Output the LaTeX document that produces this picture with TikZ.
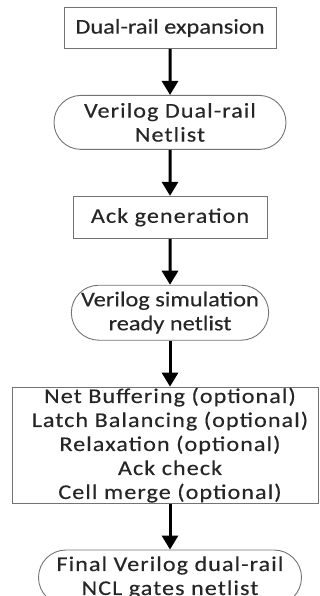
\documentclass[tikz,border=0pt]{standalone}
\usepackage{fontspec}
\setmainfont[FakeStretch=1.15,LetterSpace=5,FakeBold=0.3]{Carlito}
\newfontfamily\tightfont[FakeStretch=1.16,FakeBold=0.3]{Carlito}
\usepackage{tikz}
\usetikzlibrary{positioning,arrows.meta,shapes.misc}

\begin{document}
\begin{tikzpicture}[
	x=1pt, y=1pt,
	% --- KÍCH THƯỚC & KHOẢNG CÁCH ---
	node distance=46pt,              % khoảng hở dọc giữa các khối
	% -----------------------------
	every node/.style={
		font=\fontsize{21}{24}\selectfont, text=black!85,
		align=center, inner sep=0pt
	},
	% Khối xử lý (chữ nhật)
	proc_box/.style={rectangle, draw=black!55, line width=0.9pt},
	% Khối netlist (bo tròn hai đầu)
	term_box/.style={rounded rectangle, draw=black!55, line width=0.9pt},
	% Chữ hẹp hơn cho vài khối
	tight_text/.style={font=\tightfont\fontsize{21}{24}\selectfont},
	flow_arrow/.style={draw, line width=3pt, -{Triangle[width=16pt,length=14pt]}}
	]
	\useasboundingbox (0,0) rectangle (320,-596);
	\clip (0,0) rectangle (320,-596);
	
	% Các bước của luồng
	\node[proc_box, tight_text, minimum width=212pt, minimum height=41pt] (expand) at (170,-28) {Dual-rail expansion};
	\node[term_box, minimum width=232pt, minimum height=54pt, below=of expand] (dr_net) {Verilog Dual-rail\\Netlist};
	\node[proc_box, minimum width=194pt, minimum height=42pt, below=of dr_net] (ack_gen) {Ack generation};
	\node[term_box, tight_text, minimum width=195pt, minimum height=55pt, below=of ack_gen] (sim_net) {Verilog simulation\\ready netlist};
	\node[proc_box, minimum width=306pt, minimum height=116pt, below=of sim_net, xshift=-5pt] (opt_steps) {};
	% Chữ trong khối lớn lệch phải một chút
	\node[xshift=5pt] (opt_text) at (opt_steps) {Net Buffering (optional)\\Latch Balancing (optional)\\Relaxation (optional)\\Ack check\\Cell merge (optional)};
	\node[term_box, minimum width=263pt, minimum height=55pt, below=of opt_steps, xshift=5pt] (final_net) {Final Verilog dual-rail\\NCL gates netlist};
	
	% Mũi tên nối
	\draw[flow_arrow] (expand) -- (dr_net);
	\draw[flow_arrow] (dr_net) -- (ack_gen);
	\draw[flow_arrow] (ack_gen) -- (sim_net);
	\draw[flow_arrow] (sim_net.south) -- (sim_net.south |- opt_steps.north);
	\draw[flow_arrow] (opt_steps.south -| final_net.north) -- (final_net.north);
\end{tikzpicture}
\end{document}
